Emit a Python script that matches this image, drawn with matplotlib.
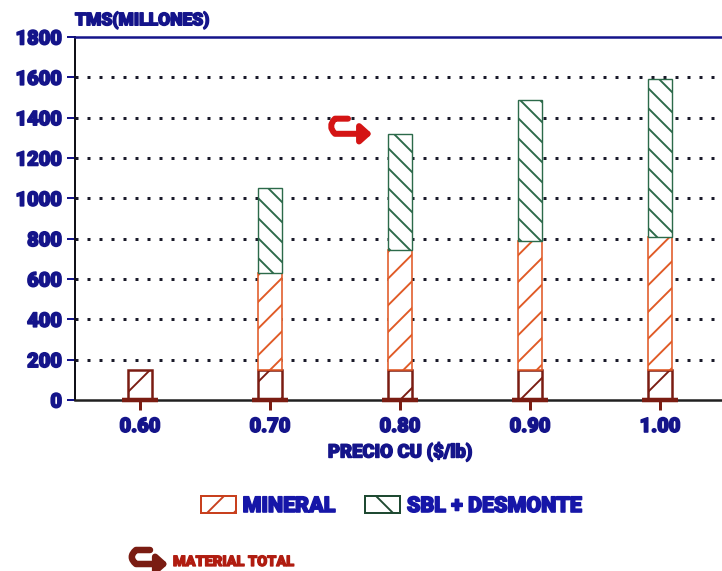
import matplotlib
matplotlib.use("Agg")
import matplotlib.pyplot as plt
import matplotlib.patheffects as pe
from matplotlib.path import Path
from matplotlib.patches import FancyArrowPatch, Patch

# --- data -----------------------------------------------------------------
precios = ["0.60", "0.70", "0.80", "0.90", "1.00"]
mineral_base = [150, 150, 150, 150, 150]        # tramo inferior del mineral
mineral = [150, 630, 745, 790, 810]             # mineral total (TMS millones)
sbl_desmonte = [0, 420, 575, 700, 780]          # SBL + desmonte
y_ticks = [0, 200, 400, 600, 800, 1000, 1200, 1400, 1600, 1800]

# --- styling --------------------------------------------------------------
DPI = 240
W, H = 722, 571
PT = 72.0 / DPI          # points per pixel


def px(n):
    return n * PT


NAVY = "#14148a"
BLUE = "#1616a8"
DARK_RED = "#7a1c12"
ORANGE = "#e05a26"
GREEN = "#2c6a4a"
RED_TXT = "#b01c10"

plt.rcParams["font.family"] = ["Roboto", "DejaVu Sans"]
plt.rcParams["font.weight"] = "black"
plt.rcParams["hatch.linewidth"] = px(1.9)


def heavy(color, w=1.6):
    return [pe.withStroke(linewidth=px(w), foreground=color)]


fig = plt.figure(figsize=(W / DPI, H / DPI), dpi=DPI)
fig.patch.set_facecolor("white")
ax = fig.add_axes([75 / W, (H - 400) / H, (W - 75) / W, (400 - 37) / H])

x = list(range(len(precios)))
bw = 0.19

# bars: lower mineral segment, rest of mineral, SBL + desmonte on top
mineral_rest = [m - b for m, b in zip(mineral, mineral_base)]
ax.bar(x, mineral_base, width=bw, facecolor="white", edgecolor=DARK_RED,
       hatch="//", linewidth=px(2.5), zorder=3)
idx = [i for i in x if mineral_rest[i] > 0]
ax.bar(idx, [mineral_rest[i] for i in idx], width=bw,
       bottom=[mineral_base[i] for i in idx], facecolor="white",
       edgecolor=ORANGE, hatch="///", linewidth=px(1.6), zorder=3)
idx = [i for i in x if sbl_desmonte[i] > 0]
ax.bar(idx, [sbl_desmonte[i] for i in idx], width=bw,
       bottom=[mineral[i] for i in idx], facecolor="white",
       edgecolor=GREEN, hatch="\\\\\\\\", linewidth=px(1.4), zorder=3)

# bar feet on the axis line
for xi in x:
    ax.plot([xi - 0.135, xi + 0.135], [0, 0], color=DARK_RED,
            lw=px(4.5), solid_capstyle="butt", zorder=5, clip_on=False)

ax.set_xlim(-0.5, (W - 75) / 130.0 - 0.5)
ax.set_ylim(0, 1800)
ax.set_xticks(x)
ax.set_xticklabels(precios)
ax.set_yticks(y_ticks)
ax.set_yticklabels([str(v) for v in y_ticks])

ax.tick_params(axis="y", direction="out", length=px(8), width=px(2),
               color=NAVY, labelcolor=NAVY, labelsize=px(20), pad=px(5))
ax.tick_params(axis="x", direction="out", length=px(10), width=px(3),
               color=DARK_RED, labelcolor=NAVY, labelsize=px(20), pad=px(7))
for lab in ax.get_xticklabels() + ax.get_yticklabels():
    lab.set_fontweight("black")
    lab.set_path_effects(heavy(NAVY))

# dotted grid
for v in y_ticks[1:-1]:
    ax.axhline(v, color="#1a1a2a", lw=px(3), ls=(0, (1, 3)), zorder=1)

ax.spines["right"].set_visible(False)
ax.spines["top"].set_color(NAVY)
ax.spines["top"].set_linewidth(px(2.5))
ax.spines["left"].set_color("#101018")
ax.spines["left"].set_linewidth(px(2))
ax.spines["bottom"].set_color("#202020")
ax.spines["bottom"].set_linewidth(px(2.5))

# axis titles
fig.text(75 / W, 1 - 20 / H, "TMS(MILLONES)", color=NAVY, fontsize=px(17.5),
         fontweight="black", ha="left", va="center",
         path_effects=heavy(NAVY, 1.5))
fig.text(400 / W, 1 - 452 / H, "PRECIO CU ($/lb)", color=NAVY,
         fontsize=px(18.5), fontweight="black", ha="center", va="center",
         path_effects=heavy(NAVY, 1.5))

# legend
handles = [
    Patch(facecolor="white", edgecolor="#c8401e", hatch="///", linewidth=px(2)),
    Patch(facecolor="white", edgecolor="#1f4a32", hatch="\\\\", linewidth=px(2)),
]
leg = fig.legend(handles, ["MINERAL", "SBL + DESMONTE"], ncol=2,
                 loc="center", bbox_to_anchor=(391 / W, 1 - 506 / H),
                 frameon=False, fontsize=px(21.5), handlelength=1.65,
                 handleheight=0.85, handletextpad=0.3, columnspacing=1.4)
for t in leg.get_texts():
    t.set_color(BLUE)
    t.set_fontweight("black")
    t.set_path_effects(heavy(BLUE))


def fig_xy(xp, yp):
    return xp / W, 1 - yp / H


def hook_arrow(p_start, corner_x, p_end, transform, color, lw, zorder,
               scale=14):
    (x0, y0), (x1, y1) = p_start, p_end
    verts = [(x0, y0), (corner_x, y0), (corner_x - (x0 - corner_x) * 0.6,
             (y0 + y1) / 2), (corner_x, y1), (x1, y1)]
    codes = [Path.MOVETO, Path.LINETO, Path.CURVE3, Path.CURVE3, Path.LINETO]
    arr = FancyArrowPatch(path=Path(verts, codes), transform=transform,
                          arrowstyle="-|>,head_length=0.5,head_width=0.45",
                          mutation_scale=px(scale), lw=lw, color=color,
                          zorder=zorder, capstyle="round", joinstyle="round")
    return arr


# arrow pointing at the total of the 0.80 bar
total_080 = mineral[2] + sbl_desmonte[2]
arr = hook_arrow((1.6, total_080 + 75), 1.5, (2 - bw / 2 - 0.12, total_080),
                 ax.transData, "#d41414", px(6), 6, scale=17)
arr.set_clip_on(False)
ax.add_patch(arr)

# "MATERIAL TOTAL" key at the bottom
(a0x, a0y) = fig_xy(150, 550)
(a1x, a1y) = fig_xy(168, 564)
key = hook_arrow((a0x, a0y), fig_xy(136, 0)[0], (a1x, a1y), fig.transFigure,
                 DARK_RED, px(6.5), 6, scale=16)
fig.add_artist(key)
fig.text(173 / W, 1 - 562 / H, "MATERIAL TOTAL", color=RED_TXT,
         fontsize=px(14.5), fontweight="black", ha="left", va="center",
         path_effects=heavy(RED_TXT, 1.3))

fig.savefig("out.png", dpi=DPI, facecolor="white")
